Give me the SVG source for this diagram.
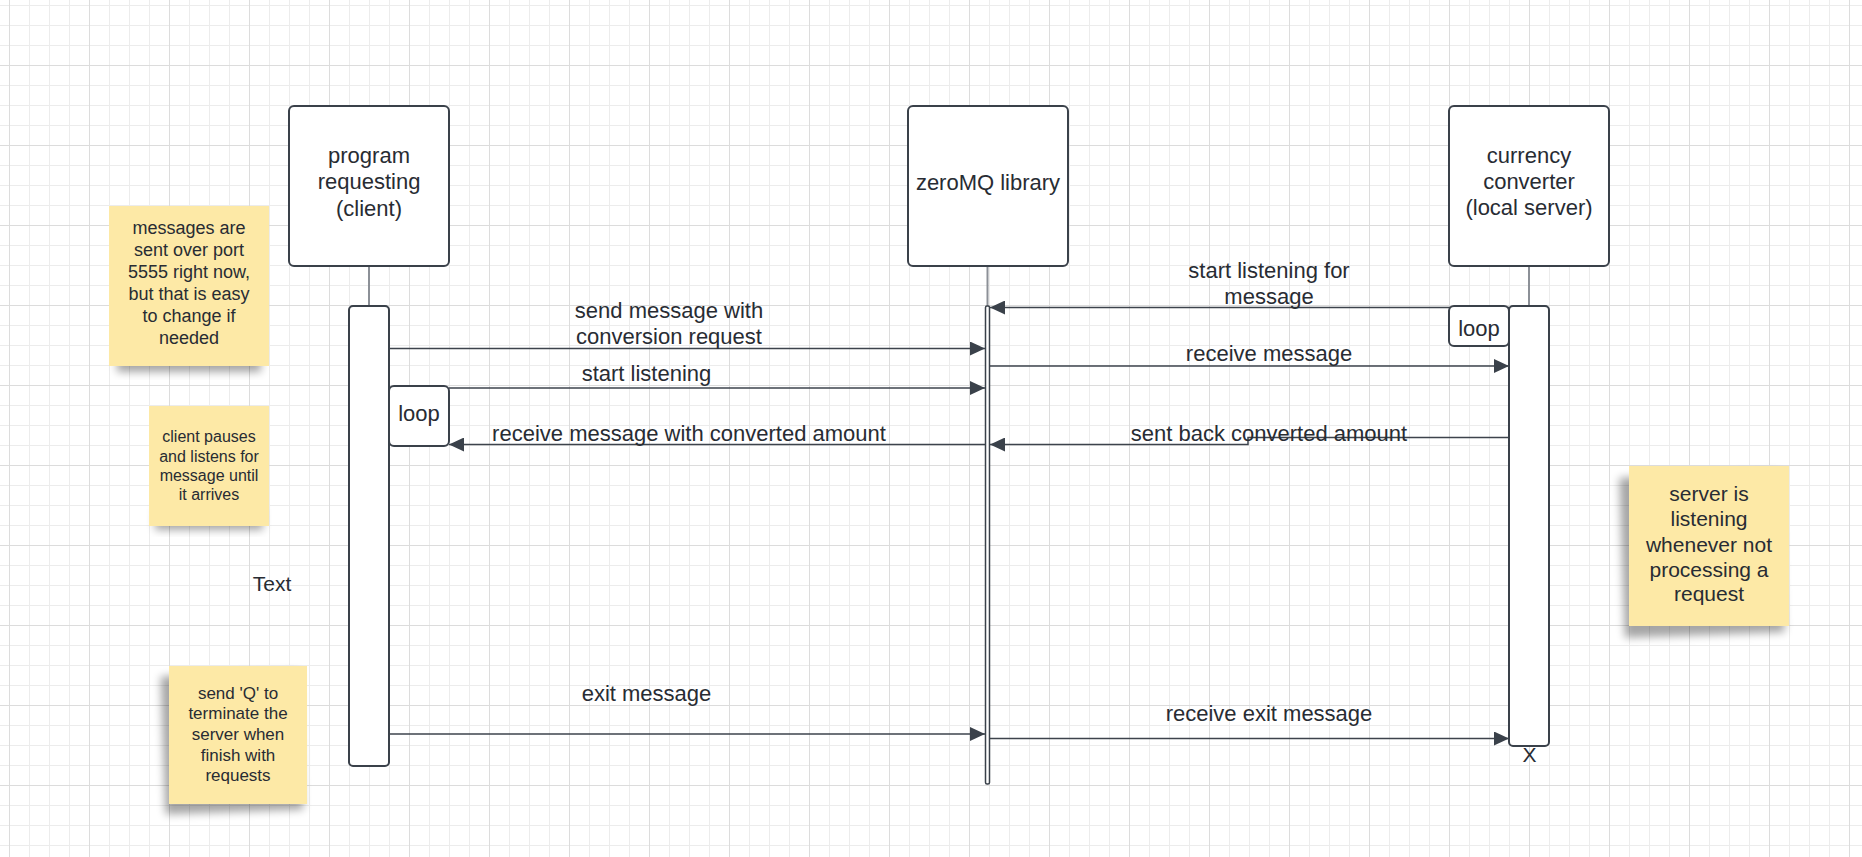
<svg xmlns="http://www.w3.org/2000/svg" width="1862" height="857" viewBox="0 0 1862 857">
<style>
  .box{fill:#ffffff;stroke:#3a414a;stroke-width:2}
  .act{fill:#ffffff;stroke:#3a414a;stroke-width:2}
  .life{stroke:#8c9097;stroke-width:2;fill:none}
  .msg{stroke:#3d434c;stroke-width:1.5;fill:none;marker-end:url(#arr)}
  .t{font-family:"Liberation Sans",Arial,sans-serif;fill:#282c33;text-anchor:middle}
  .lbl{font-size:22px}
  .note{fill:#fde9a6}
  .shadow{fill:#000000;opacity:0.35;filter:url(#blur)}
</style>
<defs>
  <pattern id="grid" x="9" y="65" width="80" height="80" patternUnits="userSpaceOnUse">
    <path d="M20.5 0V80M40.5 0V80M60.5 0V80M0 20.5H80M0 40.5H80M0 60.5H80" stroke="#ececec" stroke-width="1"/>
    <path d="M0.5 0V80M0 0.5H80" stroke="#dcdcdc" stroke-width="1"/>
  </pattern>
  <filter id="blur" x="-30%" y="-30%" width="160%" height="160%">
    <feGaussianBlur stdDeviation="4"/>
  </filter>
  <marker id="arr" viewBox="0 0 15 14" refX="15" refY="7" markerWidth="15" markerHeight="14" markerUnits="userSpaceOnUse" orient="auto">
    <path d="M0,0 L15,7 L0,14 z" fill="#3a414a"/>
  </marker>
</defs>
<rect x="0" y="0" width="1862" height="857" fill="#ffffff"/>
<rect x="0" y="0" width="1862" height="857" fill="url(#grid)"/>

<g id="connectors">
  <path class="life" d="M369 266V306"/>
  <path class="life" d="M987.5 266V306"/>
  <path class="life" d="M1529 266V306"/>
  <path class="msg" d="M389 348.5H985"/>
  <path class="msg" d="M449 388H985"/>
  <path class="msg" d="M985 444.5H449"/>
  <path class="msg" d="M1509 307.5H990"/>
  <path class="msg" d="M990 366H1509"/>
  <path class="msg" d="M1509 437.5H1248V444.5H990"/>
  <path class="msg" d="M389 734H985"/>
  <path class="msg" d="M990 738.5H1509"/>
</g>

<g id="client">
  <rect class="box" x="289" y="106" width="160" height="160" rx="5"/>
  <text class="t lbl" x="369" y="162.7">program</text>
  <text class="t lbl" x="369" y="189.4">requesting</text>
  <text class="t lbl" x="369" y="216">(client)</text>
</g>
<g id="client-activation">
  <rect class="act" x="349" y="306" width="40" height="460" rx="4"/>
</g>
<g id="client-loop">
  <rect class="box" x="389" y="386" width="60" height="60" rx="5"/>
  <text class="t lbl" x="419" y="421">loop</text>
</g>

<g id="zeromq">
  <rect class="box" x="908" y="106" width="160" height="160" rx="5"/>
  <text class="t lbl" x="988" y="189.7">zeroMQ library</text>
</g>
<g id="zeromq-activation">
  <rect fill="#ffffff" stroke="#3a414a" stroke-width="1.5" x="985.5" y="306" width="4" height="478" rx="1.5"/>
</g>

<g id="server">
  <rect class="box" x="1449" y="106" width="160" height="160" rx="5"/>
  <text class="t lbl" x="1529" y="162.7">currency</text>
  <text class="t lbl" x="1529" y="188.7">converter</text>
  <text class="t lbl" x="1529" y="215.4">(local server)</text>
</g>
<g id="server-activation">
  <rect class="act" x="1509" y="306" width="40" height="440" rx="4"/>
</g>
<g id="server-loop">
  <rect class="box" x="1449" y="306" width="60" height="40" rx="5"/>
  <text class="t lbl" x="1479" y="336">loop</text>
</g>
<g id="destroy">
  <text class="t" x="1529.5" y="762" font-size="21px">X</text>
</g>

<g id="labels">
  <text class="t lbl" x="669" y="317.7">send message with</text>
  <text class="t lbl" x="669" y="343.7">conversion request</text>
  <text class="t lbl" x="646.5" y="381">start listening</text>
  <text class="t lbl" x="689" y="441">receive message with converted amount</text>
  <text class="t lbl" x="1269" y="277.7">start listening for</text>
  <text class="t lbl" x="1269" y="304.4">message</text>
  <text class="t lbl" x="1269" y="361">receive message</text>
  <text class="t lbl" x="1269" y="441">sent back converted amount</text>
  <text class="t lbl" x="646.5" y="701">exit message</text>
  <text class="t lbl" x="1269" y="721">receive exit message</text>
</g>

<g id="note-port">
  <rect class="shadow" x="117" y="346" width="144" height="26"/>
  <rect class="note" x="109" y="206" width="160" height="160"/>
  <text class="t" font-size="18px" x="189" y="234">messages are</text>
  <text class="t" font-size="18px" x="189" y="256">sent over port</text>
  <text class="t" font-size="18px" x="189" y="278">5555 right now,</text>
  <text class="t" font-size="18px" x="189" y="300">but that is easy</text>
  <text class="t" font-size="18px" x="189" y="322">to change if</text>
  <text class="t" font-size="18px" x="189" y="344">needed</text>
</g>

<g id="note-client">
  <rect class="shadow" x="155" y="508" width="108" height="22"/>
  <rect class="note" x="149" y="406" width="120" height="120"/>
  <text class="t" font-size="16px" x="209" y="442.3">client pauses</text>
  <text class="t" font-size="16px" x="209" y="461.6">and listens for</text>
  <text class="t" font-size="16px" x="209" y="480.9">message until</text>
  <text class="t" font-size="16px" x="209" y="500.2">it arrives</text>
</g>

<g id="text-label">
  <text class="t" font-size="21px" x="272" y="590.7">Text</text>
</g>

<g id="note-quit">
  <rect class="shadow" x="169" y="666" width="138" height="138" transform="translate(-6 8) rotate(-2 238 735)"/>
  <rect class="note" x="169" y="666" width="138" height="138"/>
  <text class="t" font-size="17px" x="238" y="698.7">send 'Q' to</text>
  <text class="t" font-size="17px" x="238" y="719.3">terminate the</text>
  <text class="t" font-size="17px" x="238" y="740.3">server when</text>
  <text class="t" font-size="17px" x="238" y="760.7">finish with</text>
  <text class="t" font-size="17px" x="238" y="781.3">requests</text>
</g>

<g id="note-server">
  <rect class="shadow" x="1629" y="466" width="160" height="160" transform="translate(-7 9) rotate(-2 1709 546)"/>
  <rect class="note" x="1629" y="466" width="160" height="160"/>
  <text class="t" font-size="21px" x="1709" y="500.7">server is</text>
  <text class="t" font-size="21px" x="1709" y="526.4">listening</text>
  <text class="t" font-size="21px" x="1709" y="551.7">whenever not</text>
  <text class="t" font-size="21px" x="1709" y="576.7">processing a</text>
  <text class="t" font-size="21px" x="1709" y="601.4">request</text>
</g>
</svg>
